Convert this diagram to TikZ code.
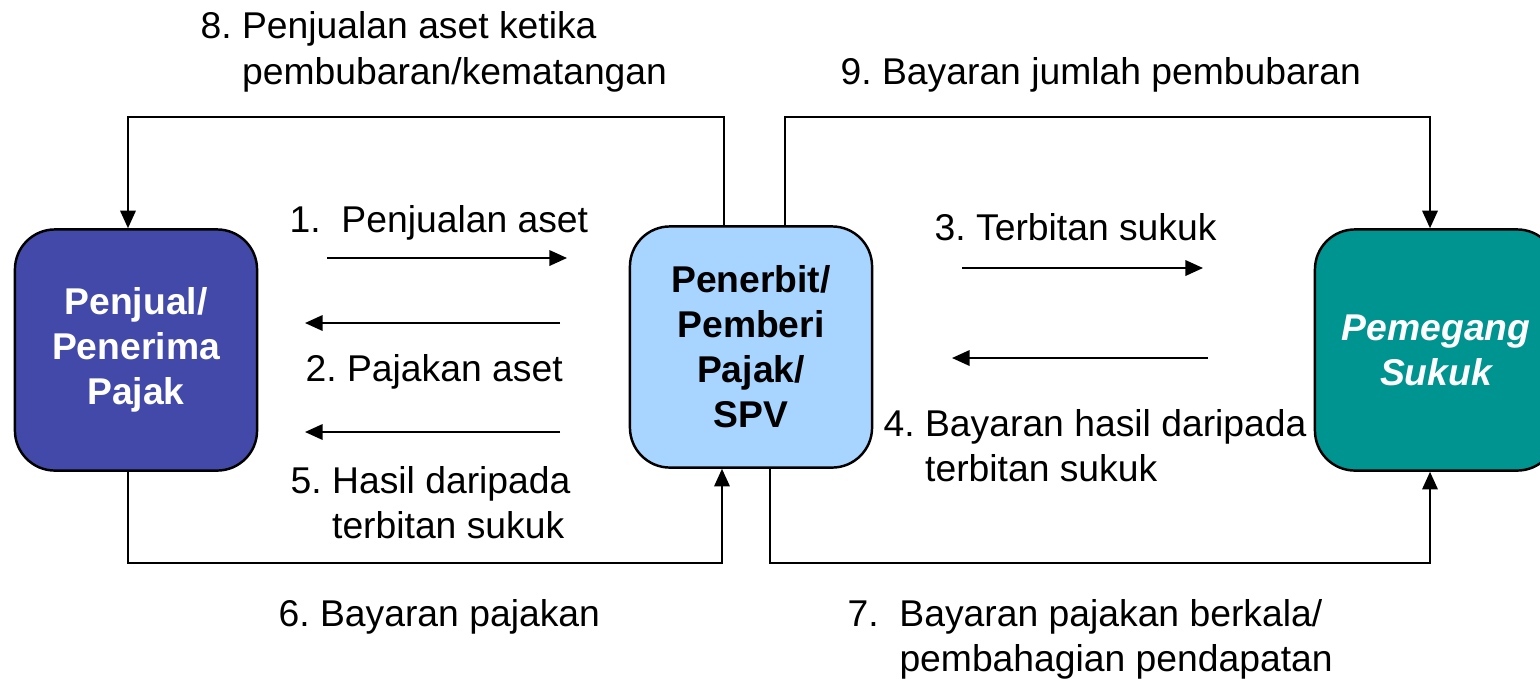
\documentclass[tikz,border=0pt]{standalone}
\usepackage{fontspec}
\setmainfont{Liberation Sans}
\usetikzlibrary{arrows.meta}
\definecolor{seller_fill}{RGB}{67,73,168}
\definecolor{spv_fill}{RGB}{168,213,255}
\definecolor{holder_fill}{RGB}{0,148,145}
\newcommand{\flowsize}{\fontsize{10.6}{12.8}\selectfont\frenchspacing}
\tikzset{
	party/.style={draw=black,line width=0.7pt,rounded corners=4mm,minimum width=2.42cm,minimum height=2.41cm,inner sep=0pt,align=center,font=\flowsize\bfseries},
	flow/.style={line width=0.55pt,arrows={-Triangle[length=5pt,width=4.4pt]}},
	steplabel/.style={anchor=base west,inner sep=0pt,align=left,font=\flowsize}
}

\begin{document}
\begin{tikzpicture}[x=0.01cm,y=-0.01cm]
	\useasboundingbox (0,0) rectangle (1540,678);
	\node[party,fill=seller_fill,text=white](seller) at (136,350) {Penjual/\\Penerima\\Pajak};
	\node[party,fill=spv_fill](spv) at (751,347) {Penerbit/\\Pemberi\\Pajak/\\SPV};
	\node[party,fill=holder_fill,text=white,font=\flowsize\bfseries\itshape](holder) at (1436,350) {Pemegang\\Sukuk};

	\coordinate (top_rail) at (0,117);
	\coordinate (bottom_rail) at (0,563);

	\coordinate (s1_from) at (327,258);
	\coordinate (s1_to) at (567,258);
	\coordinate (s2_from) at (560,323);
	\coordinate (s2_to) at (305,323);
	\coordinate (s5_from) at (560,432);
	\coordinate (s5_to) at (305,432);
	\coordinate (s3_from) at (962,268);
	\coordinate (s3_to) at (1203,268);
	\coordinate (s4_from) at (1208,358);
	\coordinate (s4_to) at (952,358);

	\draw[flow] (s1_from) -- (s1_to);
	\draw[flow] (s2_from) -- (s2_to);
	\draw[flow] (s5_from) -- (s5_to);
	\draw[flow] (s3_from) -- (s3_to);
	\draw[flow] (s4_from) -- (s4_to);

	\draw[flow] ([xshift=-2.7mm]spv.north) -- ([xshift=-2.7mm]spv.north |- top_rail) -| ([xshift=-0.8mm]seller.north);
	\draw[flow] ([xshift=3.4mm]spv.north) -- ([xshift=3.4mm]spv.north |- top_rail) -| ([xshift=-0.6mm]holder.north);
	\draw[flow] ([xshift=-0.8mm]seller.south) -- ([xshift=-0.8mm]seller.south |- bottom_rail) -| ([xshift=-2.9mm]spv.south);
	\draw[flow] ([xshift=1.9mm]spv.south) -- ([xshift=1.9mm]spv.south |- bottom_rail) -| ([xshift=-0.6mm]holder.south);

	\node[steplabel](step1) at (289,232) {1.\ \ Penjualan aset};
	\node[steplabel](step2) at (305,381) {2. Pajakan aset};
	\node[steplabel](step3) at (934,240) {3. Terbitan sukuk};
	\node[steplabel](step4) at (883,481) {4. Bayaran hasil daripada\\\phantom{4. }terbitan sukuk};
	\node[steplabel](step5) at (290,538) {5. Hasil daripada\\\phantom{5. }terbitan sukuk};
	\node[steplabel](step6) at (278,626) {6. Bayaran pajakan};
	\node[steplabel](step7) at (847,671) {7.\ \ Bayaran pajakan berkala/\\\phantom{7.\ \ }pembahagian pendapatan};
	\node[steplabel](step8) at (200,84) {8. Penjualan aset ketika\\\phantom{8. }pembubaran/kematangan};
	\node[steplabel](step9) at (840,84) {9. Bayaran jumlah pembubaran};
\end{tikzpicture}
\end{document}
